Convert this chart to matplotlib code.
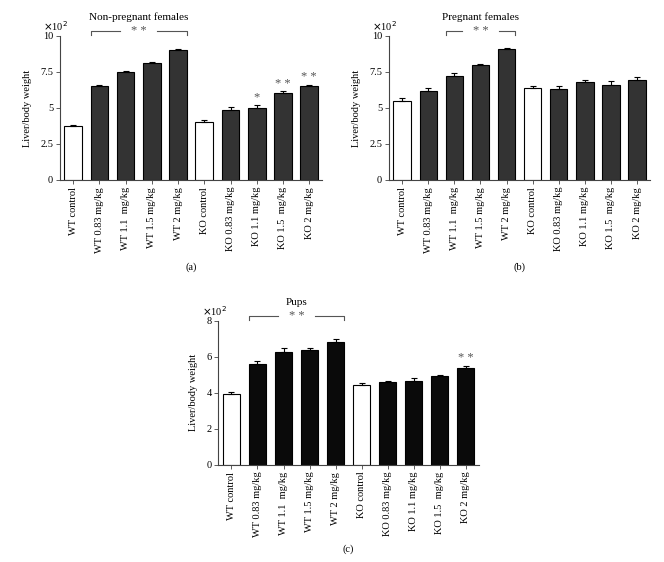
import matplotlib
matplotlib.use("Agg")
import matplotlib.pyplot as plt
import numpy as np

plt.rcParams['font.family'] = ['Liberation Serif', 'DejaVu Serif']
plt.rcParams['font.size'] = 7.5

groups = ['WT control', 'WT 0.83 mg/kg', 'WT 1.1  mg/kg', 'WT 1.5 mg/kg', 'WT 2 mg/kg',
          'KO control', 'KO 0.83 mg/kg', 'KO 1.1 mg/kg', 'KO 1.5  mg/kg', 'KO 2 mg/kg']

# panel (a) non-pregnant females
nonpreg_mean = [3.75, 6.5, 7.5, 8.1, 9.0, 4.0, 4.85, 5.0, 6.05, 6.5]
nonpreg_err = [0.05, 0.12, 0.08, 0.1, 0.12, 0.15, 0.2, 0.2, 0.12, 0.1]
nonpreg_stars = {7: '*', 8: '* *', 9: '* *'}

# panel (b) pregnant females
preg_mean = [5.5, 6.2, 7.25, 7.95, 9.1, 6.4, 6.3, 6.8, 6.6, 6.95]
preg_err = [0.2, 0.15, 0.2, 0.1, 0.08, 0.15, 0.2, 0.15, 0.25, 0.2]

# panel (c) pups
pups_mean = [3.95, 5.6, 6.25, 6.4, 6.8, 4.45, 4.6, 4.65, 4.95, 5.4]
pups_err = [0.08, 0.15, 0.25, 0.1, 0.2, 0.1, 0.05, 0.18, 0.05, 0.1]
pups_stars = {9: '* *'}

fig = plt.figure(figsize=(6.64, 5.62), dpi=100)


def panel(rect, means, errs, color, ymax, yticks, yticklabels, title, br, stars, caption):
    ax = fig.add_axes(rect)
    x = np.arange(len(means))
    fills = ['white' if 'control' in g else color for g in groups]
    ax.bar(x, means, width=0.67, color=fills, edgecolor='black', linewidth=0.8, zorder=2)
    ax.errorbar(x, means, yerr=[np.zeros(len(errs)), errs], fmt='none', ecolor='black',
                elinewidth=0.8, capsize=2.5, capthick=0.8, zorder=3)
    ax.set_xlim(-0.5, 9.5)
    ax.set_ylim(0, ymax)
    ax.set_yticks(yticks)
    ax.set_yticklabels(yticklabels)
    ax.set_xticks(x)
    ax.set_xticklabels(groups, rotation=90)
    ax.spines['top'].set_visible(False)
    ax.spines['right'].set_visible(False)
    ax.spines['left'].set_color('#444444')
    ax.spines['bottom'].set_color('#444444')
    ax.tick_params(length=3, width=0.6, color='#444444', pad=2)
    ax.set_ylabel('Liver/body weight', labelpad=6)
    ax.text(-0.065, 1.02, r'$\times$10$^2$', transform=ax.transAxes, ha='left', va='bottom')

    # significance bracket
    x0, x1 = br[0] - 0.335, br[1] + 0.335
    yb = ymax * 1.035
    tick = ymax * 0.03
    xm = (x0 + x1) / 2
    gap = 0.7
    kw = dict(color='#555555', lw=0.8, clip_on=False)
    ax.plot([x0, x0, xm - gap], [yb - tick, yb, yb], **kw)
    ax.plot([xm + gap, x1, x1], [yb, yb, yb - tick], **kw)
    ax.text(xm, yb, '* *', ha='center', va='center', color='#555555', fontsize=9)
    ax.text(xm, ymax * 1.1, title, ha='center', va='bottom', fontsize=8)

    for i, s in stars.items():
        ax.text(i, means[i] + errs[i] + ymax * 0.01, s, ha='center', va='bottom',
                color='#555555', fontsize=9)

    fig.text(rect[0] + rect[2] / 2, caption[1], caption[0], ha='center', va='center', fontsize=7.5)
    return ax


panel([0.0904, 0.680, 0.395, 0.256], nonpreg_mean, nonpreg_err, '#333333', 10,
      [0, 2.5, 5, 7.5, 10], ['0', '2.5', '5', '7.5', '10'],
      'Non-pregnant females', (1, 4), nonpreg_stars, ('(a)', 1 - 267 / 562))
panel([0.586, 0.680, 0.393, 0.256], preg_mean, preg_err, '#333333', 10,
      [0, 2.5, 5, 7.5, 10], ['0', '2.5', '5', '7.5', '10'],
      'Pregnant females', (2, 4), {}, ('(b)', 1 - 267 / 562))
panel([0.329, 0.173, 0.392, 0.256], pups_mean, pups_err, '#0a0a0a', 8,
      [0, 2, 4, 6, 8], ['0', '2', '4', '6', '8'],
      'Pups', (1, 4), pups_stars, ('(c)', 1 - 549 / 562))

fig.savefig('out.png', dpi=100)
